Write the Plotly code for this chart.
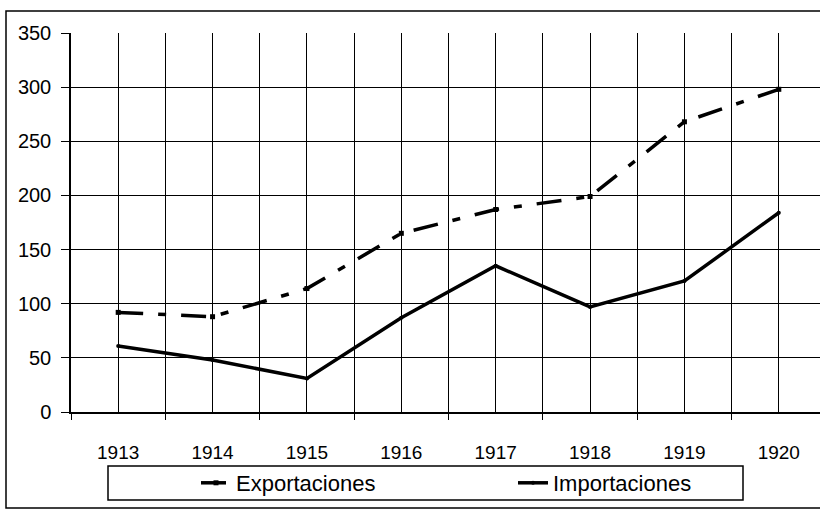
import plotly.graph_objects as go

years = ["1913", "1914", "1915", "1916", "1917", "1918", "1919", "1920"]
exportaciones = [92, 88, 114, 165, 187, 199, 268, 298]
importaciones = [61, 48, 31, 87, 135, 97, 121, 184]
y_ticks = [0, 50, 100, 150, 200, 250, 300, 350]

W, H = 820, 512
L, R, T, B = 71, 0, 33, 100
pw, ph = W - L - R, H - T - B

def px_x(p):
    return (p - L) / pw

def px_y(p):
    return (H - B - p) / ph

xpos = list(range(len(years)))
FONT = "Liberation Sans, Arial, sans-serif"

fig = go.Figure()
fig.add_trace(go.Scatter(
    x=xpos, y=exportaciones, name="Exportaciones", mode="lines+markers",
    line=dict(color="black", width=3.5, dash="25px,15px,8px,15px"),
    marker=dict(symbol="square", size=5, color="black"),
    legend="legend",
))
fig.add_trace(go.Scatter(
    x=xpos, y=importaciones, name="Importaciones", mode="lines+markers",
    line=dict(color="black", width=3.5),
    marker=dict(symbol="circle", size=4, color="black"),
    legend="legend2",
))

leg_common = dict(
    orientation="h", xanchor="left", y=px_y(483), yanchor="middle",
    bgcolor="rgba(0,0,0,0)", borderwidth=0,
    font=dict(family=FONT, size=22, color="black"),
)

fig.update_layout(
    width=W, height=H,
    margin=dict(l=L, r=R, t=T, b=B, pad=0),
    paper_bgcolor="white", plot_bgcolor="white",
    font=dict(family=FONT, color="black", size=20),
    showlegend=True,
    legend=dict(x=px_x(196), **leg_common),
    legend2=dict(x=px_x(513), **leg_common),
    xaxis=dict(
        range=[-0.5, 7.5 - 6 / 94.4],
        tickmode="array", tickvals=xpos, ticktext=years,
        ticks="", showgrid=True, gridcolor="black", gridwidth=1,
        minor=dict(tickmode="array", tickvals=[i - 0.5 for i in range(len(years) + 1)],
                   ticks="outside", ticklen=6, tickcolor="black", tickwidth=1,
                   showgrid=True, gridcolor="black", gridwidth=1),
        showline=True, linecolor="black", linewidth=1.5,
        zeroline=False, ticklabelstandoff=22,
        tickfont=dict(size=19), fixedrange=True,
    ),
    yaxis=dict(
        range=[0, 350], tickmode="array", tickvals=y_ticks,
        ticks="outside", ticklen=8, tickcolor="black", tickwidth=1,
        showgrid=True, gridcolor="black", gridwidth=1,
        showline=True, linecolor="black", linewidth=1.5,
        zeroline=False, ticklabelstandoff=6,
        tickfont=dict(size=20), fixedrange=True,
    ),
    shapes=[
        dict(type="rect", xref="paper", yref="paper",
             x0=px_x(6), x1=px_x(840), y0=px_y(508), y1=px_y(11),
             line=dict(color="black", width=1.5), fillcolor="rgba(0,0,0,0)", layer="below"),
        dict(type="rect", xref="paper", yref="paper",
             x0=px_x(108), x1=px_x(743), y0=px_y(500), y1=px_y(466),
             line=dict(color="black", width=1.5), fillcolor="rgba(0,0,0,0)"),
    ],
)

fig.write_html(
    "out.html",
    config={"displayModeBar": False},
    post_script="document.body.style.margin='0';document.body.style.overflow='hidden';",
)
